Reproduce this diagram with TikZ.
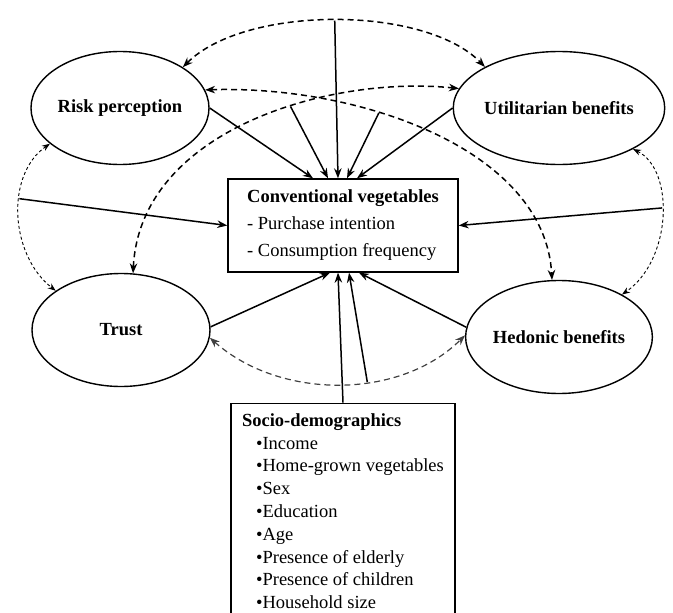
\documentclass[tikz,border=0pt]{standalone}
\usepackage{fontspec}
\setmainfont{Liberation Serif}
\usetikzlibrary{arrows.meta,shapes,positioning}
\tikzset{
	construct/.style={
		ellipse,
		draw,
		line width=1.4pt,
		minimum width=178pt,
		minimum height=113pt,
		inner sep=0pt,
		font=\fontsize{18.5}{22}\selectfont\bfseries
	},
	outcome/.style={
		rectangle,
		draw,
		line width=1.4pt,
		minimum width=230pt,
		minimum height=93pt,
		align=left,
		font=\fontsize{18.5}{27}\selectfont
	},
	socio/.style={
		rectangle,
		draw,
		line width=1.4pt,
		minimum width=224pt,
		inner xsep=10pt,
		inner ysep=10pt,
		align=left,
		font=\fontsize{18.5}{22.8}\selectfont
	},
	effect/.style={->,line width=1.5pt},
	corr/.style={<->,line width=1.5pt,dash pattern=on 6pt off 4pt},
	corrthin/.style={<->,>={Stealth[length=8pt,width=6pt]},line width=0.9pt,dash pattern=on 3pt off 2.5pt},
	corrlow/.style={<->,line width=1.2pt,draw=black!75,dash pattern=on 6pt off 4pt}
}
\begin{document}
\begin{tikzpicture}[x=1pt,y=-1pt,>={Stealth[length=10pt,width=7.5pt]}]
		\useasboundingbox (0,0) rectangle (673,613);
		% outcome and constructs
		\node [outcome] (cv) at (343,225.5) {\textbf{Conventional vegetables}\\- Purchase intention\\- Consumption frequency};
		\node [construct] (rp) at (120,108) {Risk perception};
		\node [construct] (ub) at (559,108) {Utilitarian benefits};
		\node [construct] (tr) at (121,330) {Trust};
		\node [construct] (hb) at (559,337) {Hedonic benefits};
		\node [socio] (sd) [below=130pt of cv] {\textbf{Socio-demographics}\\
			\hspace*{14pt}\textbullet Income\\
			\hspace*{14pt}\textbullet Home-grown vegetables\\
			\hspace*{14pt}\textbullet Sex\\
			\hspace*{14pt}\textbullet Education\\
			\hspace*{14pt}\textbullet Age\\
			\hspace*{14pt}\textbullet Presence of elderly\\
			\hspace*{14pt}\textbullet Presence of children\\
			\hspace*{14pt}\textbullet Household size};
		% correlations
		\draw [corr] (rp.33) .. controls (245,5) and (425,5) .. (ub.151) coordinate[pos=0.5] (top);
		\draw [corr] (rp.12) .. controls (360,85) and (545,150) .. (hb.97) coordinate[pos=0.37] (a);
		\draw [corr] (tr.78) .. controls (140,130) and (330,75) .. (ub.169) coordinate[pos=0.6] (b);
		\draw [corrthin] (rp.207) .. controls (5,175) and (10,255) .. (tr.149) coordinate[pos=0.4] (l);
		\draw [corrthin] (ub.331) .. controls (675,170) and (672,260) .. (hb.34) coordinate[pos=0.45] (r);
		\draw [corrlow] (tr.355) .. controls (280,400) and (400,400) .. (hb.179) coordinate[pos=0.6] (bot);
		% effects
		\draw [effect] (rp.east) -- ([xshift=-30pt]cv.north);
		\draw [effect] (b) -- ([xshift=-15pt]cv.north);
		\draw [effect] (top) -- ([xshift=-5pt]cv.north);
		\draw [effect] (a) -- ([xshift=4pt]cv.north);
		\draw [effect] (ub.west) -- ([xshift=14pt]cv.north);
		\draw [effect] (l) -- (cv.west);
		\draw [effect] (r) -- (cv.east);
		\draw [effect] (tr.2) -- ([xshift=-13pt]cv.south);
		\draw [effect] (sd.north) -- ([xshift=-5pt]cv.south);
		\draw [effect] (bot) -- ([xshift=6pt]cv.south);
		\draw [effect] (hb.174) -- ([xshift=16pt]cv.south);
\end{tikzpicture}
\end{document}
